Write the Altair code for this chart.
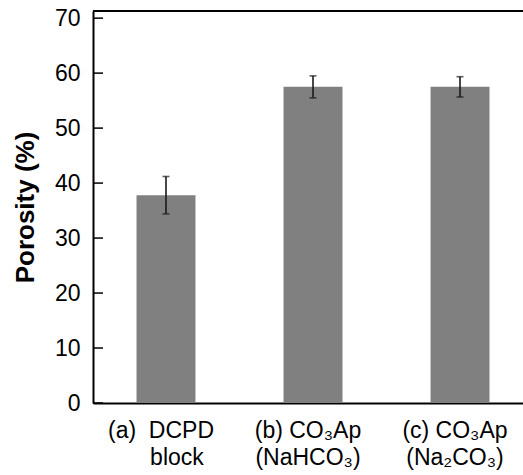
import json
import altair as alt
import pandas as pd

# ---- data ----
keys = ["a", "b", "c"]
line1 = ["(a)\u00a0\u00a0DCPD", "(b) CO\u2083Ap", "(c) CO\u2083Ap"]
line2 = ["\u200b\u00a0\u00a0\u00a0\u00a0\u00a0block", "(NaHCO\u2083)", "(Na\u2082CO\u2083)"]
porosity = [37.8, 57.5, 57.5]
error = [3.4, 2.0, 1.85]
y_ticks = [0, 10, 20, 30, 40, 50, 60, 70]
y_max = 71.3

df = pd.DataFrame({
    "key": keys,
    "porosity": porosity,
    "lo": [p - e for p, e in zip(porosity, error)],
    "hi": [p + e for p, e in zip(porosity, error)],
})
ticks_df = pd.DataFrame({"v": y_ticks})
top_df = pd.DataFrame({"v": [y_max]})

# label expression (multi-line labels)
expr = "''"
for k, l1, l2 in reversed(list(zip(keys, line1, line2))):
    expr = f"datum.value == {json.dumps(k)} ? [{json.dumps(l1)}, {json.dumps(l2)}] : {expr}"

FONT = "Liberation Sans"

yscale = alt.Scale(domain=[0, y_max], nice=False, zero=True)
xscale = alt.Scale(paddingInner=0.599, paddingOuter=0.262, align=0.565)

x_enc = alt.X(
    "key:N", sort=keys, scale=xscale, title=None,
    axis=alt.Axis(
        labelExpr=expr, labelAngle=0, ticks=False, grid=False,
        domainColor="black", domainWidth=2, labelFontSize=23,
        labelColor="black", labelPadding=16, labelLineHeight=27,
        labelOffset=-5, labelFont=FONT, labelBaseline="top",
    ),
)

y_enc = alt.Y(
    "porosity:Q", scale=yscale,
    axis=alt.Axis(
        values=y_ticks, ticks=False, grid=False, domainColor="black",
        domainWidth=2, labelFontSize=23, labelColor="black", labelPadding=13,
        labelFont=FONT, title="Porosity (%)", titleFontSize=26,
        titleFontWeight="bold", titleColor="black", titleFont=FONT,
        titlePadding=16,
    ),
)

base = alt.Chart(df)

bars = base.mark_bar(color="#808080").encode(x=x_enc, y=y_enc)

err_rule = base.mark_rule(color="#1a1a1a", strokeWidth=1.6).encode(
    x=alt.X("key:N", sort=keys, scale=xscale),
    y=alt.Y("lo:Q", scale=yscale),
    y2="hi:Q",
)
cap_lo = base.mark_tick(color="#1a1a1a", size=7, thickness=1.6).encode(
    x=alt.X("key:N", sort=keys, scale=xscale),
    y=alt.Y("lo:Q", scale=yscale),
)
cap_hi = base.mark_tick(color="#1a1a1a", size=7, thickness=1.6).encode(
    x=alt.X("key:N", sort=keys, scale=xscale),
    y=alt.Y("hi:Q", scale=yscale),
)

inward_ticks = alt.Chart(ticks_df).mark_rule(color="black", strokeWidth=1.5).encode(
    y=alt.Y("v:Q", scale=yscale),
    x=alt.value(0),
    x2=alt.value(10),
)

top_line = alt.Chart(top_df).mark_rule(color="black", strokeWidth=2).encode(
    y=alt.Y("v:Q", scale=yscale),
)

chart = (
    alt.layer(bars, err_rule, cap_lo, cap_hi, inward_ticks, top_line)
    .properties(
        width=430,
        height=392,
        autosize="none",
        padding={"left": 93, "top": 11, "right": 0, "bottom": 72},
        background="white",
    )
    .configure_view(stroke=None)
    .configure(font=FONT)
)

chart.save("out.html", embed_options={"renderer": "svg", "actions": False})
